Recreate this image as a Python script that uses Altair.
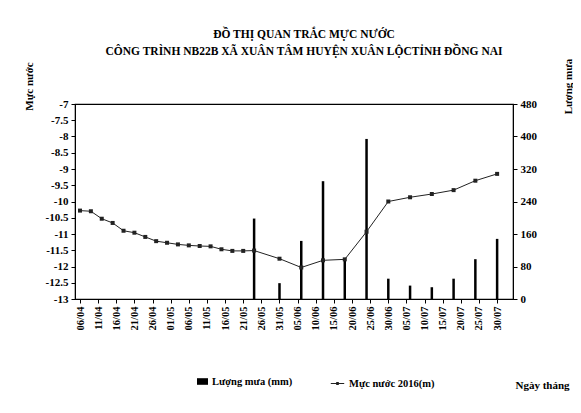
import altair as alt
import pandas as pd

# ---- data ----
level_dates = ["06/04", "09/04", "12/04", "15/04", "18/04", "21/04", "24/04", "27/04",
               "30/04", "03/05", "06/05", "09/05", "12/05", "15/05", "18/05", "21/05",
               "24/05", "31/05", "06/06", "12/06", "18/06", "24/06", "30/06", "06/07",
               "12/07", "18/07", "24/07", "30/07"]
levels = [-10.28, -10.30, -10.53, -10.66, -10.90, -10.96, -11.09, -11.22,
          -11.27, -11.32, -11.35, -11.37, -11.38, -11.47, -11.52, -11.52,
          -11.51, -11.76, -12.03, -11.81, -11.78, -10.93, -10.00, -9.87,
          -9.77, -9.65, -9.36, -9.15]

rain_dates = ["24/05", "31/05", "06/06", "12/06", "18/06", "24/06", "30/06",
              "06/07", "12/07", "18/07", "24/07", "30/07"]
rain = [198, 39, 143, 290, 97, 394, 50, 33, 29, 50, 98, 148]

tick_labels = ["06/04", "11/04", "16/04", "21/04", "26/04", "01/05", "06/05", "11/05",
               "16/05", "21/05", "26/05", "31/05", "05/06", "10/06", "15/06", "20/06",
               "25/06", "30/06", "05/07", "10/07", "15/07", "20/07", "25/07", "30/07"]

level_ticks = [-13, -12.5, -12, -11.5, -11, -10.5, -10, -9.5, -9, -8.5, -8, -7.5, -7]
rain_ticks = [0, 80, 160, 240, 320, 400, 480]

title_lines = ["ĐỒ THỊ QUAN TRẮC MỰC NƯỚC",
               "CÔNG TRÌNH NB22B XÃ XUÂN TÂM HUYỆN XUÂN LỘCTỈNH ĐỒNG NAI"]


def day_index(s):
    d, m = s.split("/")
    return (pd.Timestamp(2016, int(m), int(d)) - pd.Timestamp(2016, 4, 6)).days


level_df = pd.DataFrame({"ngay": level_dates, "muc": levels})
level_df["d"] = level_df["ngay"].map(day_index)
level_df["s"] = "Mực nước 2016(m)"

rain_df = pd.DataFrame({"ngay": rain_dates, "mua": rain})
rain_df["d"] = rain_df["ngay"].map(day_index)
rain_df["s"] = "Lượng mưa (mm)"

tick_pos = [day_index(t) for t in tick_labels]
label_expr = "[" + ",".join("'%s'" % t for t in tick_labels) + "][round(datum.value/5)]"

FONT = "Liberation Serif"

x_scale = alt.Scale(domain=[0, 118], nice=False, zero=False)
lvl_scale = alt.Scale(domain=[-13, -7], nice=False, zero=False)

x_enc = alt.X("d:Q", scale=x_scale,
              axis=alt.Axis(values=tick_pos, labelExpr=label_expr, labelAngle=270,
                            labelOverlap=False, labelFontSize=10.5, tickSize=4,
                            labelPadding=3,
                            title="Ngày tháng", titleX=467, titleY=86,
                            titleAlign="center", titleBaseline="middle",
                            titleFontSize=11))

bars = alt.Chart(rain_df).mark_bar(size=2.5).encode(
    x=x_enc,
    y=alt.Y("mua:Q",
            scale=alt.Scale(domain=[0, 480], nice=False),
            axis=alt.Axis(orient="right", values=rain_ticks, tickSize=4,
                          labelOverlap=False, labelFontSize=11, labelPadding=3,
                          title="Lượng mưa", titleAngle=270, titleX=55, titleY=-18,
                          titleAlign="center", titleBaseline="middle",
                          titleFontSize=11)),
    fill=alt.Fill("s:N", scale=alt.Scale(range=["#000000"]),
                  legend=alt.Legend(orient="none", legendX=122, legendY=272,
                                    title=None, symbolType="M-1,-0.6H1V0.6H-1Z",
                                    symbolSize=121, symbolStrokeWidth=0,
                                    labelFont=FONT, labelFontWeight="bold",
                                    labelFontSize=10.5, labelColor="#000")),
)

line = alt.Chart(level_df).mark_line(
    strokeWidth=1,
    point=alt.OverlayMarkDef(filled=True, size=4, shape="square", color="#000000"),
).encode(
    x=x_enc,
    y=alt.Y("muc:Q", scale=lvl_scale,
            axis=alt.Axis(values=level_ticks, labelExpr="datum.value + ''",
                          labelOverlap=False, tickSize=4, labelFontSize=11,
                          labelPadding=3,
                          title="Mực nước", titleAngle=270, titleX=-46, titleY=-18,
                          titleAlign="center", titleBaseline="middle",
                          titleFontSize=11)),
    stroke=alt.Stroke("s:N", scale=alt.Scale(range=["#222222"]),
                      legend=alt.Legend(orient="none", legendX=255, legendY=272,
                                        title=None,
                                        symbolType="M-1,0H1M-0.15,-0.15H0.15V0.15H-0.15Z",
                                        symbolSize=180, symbolStrokeWidth=1,
                                        labelFont=FONT, labelFontWeight="bold",
                                        labelFontSize=10.5, labelColor="#000")),
)

chart = alt.layer(bars, line).resolve_scale(y="independent").properties(
    width=438,
    height=195,
    autosize=alt.AutoSizeParams(type="none"),
    padding={"left": 67, "top": 96, "right": 60, "bottom": 106},
    title=alt.TitleParams(text=title_lines, font=FONT, fontSize=11.5,
                          fontWeight="bold", anchor="middle", offset=1,
                          lineHeight=17, dx=10, color="#000"),
).configure_axis(
    labelFont=FONT, labelFontWeight="bold", labelColor="#000",
    titleFont=FONT, titleFontWeight="bold", titleColor="#000",
    domainColor="#000", tickColor="#000", grid=False, labelOverlap=False,
).configure_view(stroke="#000", strokeWidth=1.2)

chart.save("out.html", embed_options={"renderer": "svg", "actions": False})
